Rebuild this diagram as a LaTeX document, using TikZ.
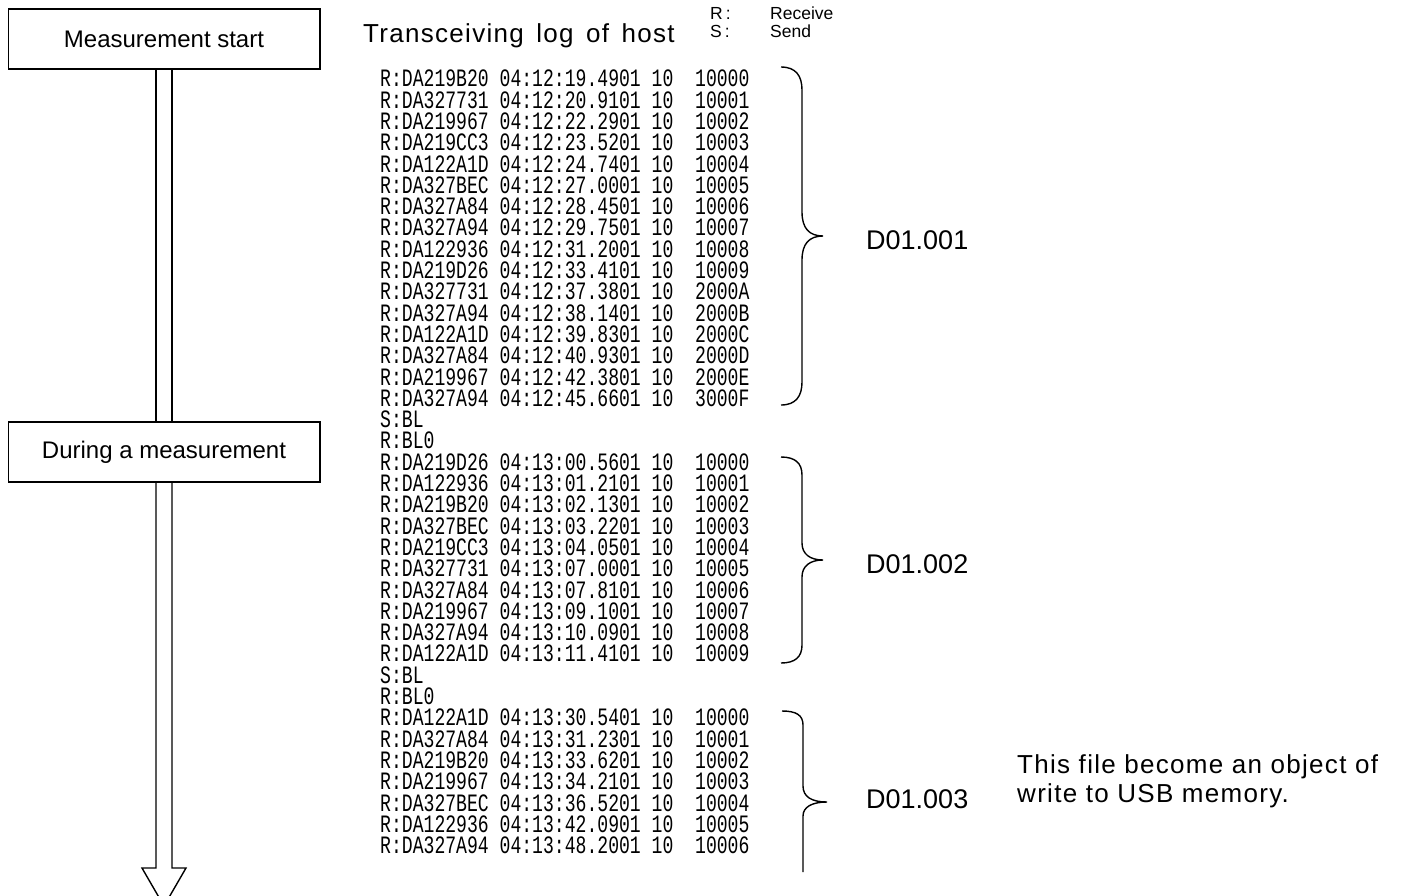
\documentclass[tikz,border=0pt]{standalone}
\usepackage{fontspec}
\setmainfont{Liberation Sans}
\newfontfamily\logfont[FakeStretch=0.724]{Liberation Mono}
\newfontfamily\spacedfont[LetterSpace=5]{Liberation Sans}
\begin{document}
\begin{tikzpicture}[x=1pt,y=-1pt,
  box/.style={draw, line width=1.5pt, minimum width=311.5pt, minimum height=60pt, inner sep=0pt, font=\fontsize{24}{28}\selectfont},
  logline/.style={anchor=base west, inner sep=0pt, text height=15pt, text depth=3pt, font=\logfont\fontsize{25}{21.3}\selectfont},
  lbl/.style={anchor=base west, inner sep=0pt, font=\fontsize{27}{32}\selectfont},
  legend/.style={anchor=base west, inner sep=0pt, text height=12pt, text depth=2pt, font=\fontsize{17.5}{18}\selectfont},
  note/.style={anchor=base west, inner sep=0pt, font=\spacedfont\fontsize{26}{29}\selectfont},
  shaft/.style={line width=1.4pt, line join=miter},
  bracestyle/.style={line width=1.4pt}]
\useasboundingbox (0,0) rectangle (1405,895);

% flow boxes
\node[box] (start) at (164,39) {Measurement start};
\node[box] (during) at (164,452) {During a measurement};

% double-line arrow
\draw[shaft] ([xshift=-8pt]start.south) -- ([xshift=-8pt]during.north);
\draw[shaft] ([xshift=8pt]start.south) -- ([xshift=8pt]during.north);
\coordinate (tip) at (164,906);
\draw[shaft] ([xshift=-8pt]during.south) -- (156,868) -- (142,868) -- (tip) -- (186,868) -- (172,868) -- ([xshift=8pt]during.south);

% header
\node[note] (title) at (363,42) {Transceiving\hspace{12.5pt}log\hspace{12.5pt}of\hspace{12.5pt}host};
\node[legend] (rkey) at (710,19) {R\kern3pt:};
\node[legend] (rtxt) at (770,19) {Receive};
\node[legend] (skey) at (710,37) {S\kern3pt:};
\node[legend] (stxt) at (770,37) {Send};

% log lines
\foreach \t [count=\i] in {
R:DA219B20 04:12:19.4901 10~~10000,
R:DA327731 04:12:20.9101 10~~10001,
R:DA219967 04:12:22.2901 10~~10002,
R:DA219CC3 04:12:23.5201 10~~10003,
R:DA122A1D 04:12:24.7401 10~~10004,
R:DA327BEC 04:12:27.0001 10~~10005,
R:DA327A84 04:12:28.4501 10~~10006,
R:DA327A94 04:12:29.7501 10~~10007,
R:DA122936 04:12:31.2001 10~~10008,
R:DA219D26 04:12:33.4101 10~~10009,
R:DA327731 04:12:37.3801 10~~2000A,
R:DA327A94 04:12:38.1401 10~~2000B,
R:DA122A1D 04:12:39.8301 10~~2000C,
R:DA327A84 04:12:40.9301 10~~2000D,
R:DA219967 04:12:42.3801 10~~2000E,
R:DA327A94 04:12:45.6601 10~~3000F,
S:BL,
R:BL0,
R:DA219D26 04:13:00.5601 10~~10000,
R:DA122936 04:13:01.2101 10~~10001,
R:DA219B20 04:13:02.1301 10~~10002,
R:DA327BEC 04:13:03.2201 10~~10003,
R:DA219CC3 04:13:04.0501 10~~10004,
R:DA327731 04:13:07.0001 10~~10005,
R:DA327A84 04:13:07.8101 10~~10006,
R:DA219967 04:13:09.1001 10~~10007,
R:DA327A94 04:13:10.0901 10~~10008,
R:DA122A1D 04:13:11.4101 10~~10009,
S:BL,
R:BL0,
R:DA122A1D 04:13:30.5401 10~~10000,
R:DA327A84 04:13:31.2301 10~~10001,
R:DA219B20 04:13:33.6201 10~~10002,
R:DA219967 04:13:34.2101 10~~10003,
R:DA327BEC 04:13:36.5201 10~~10004,
R:DA122936 04:13:42.0901 10~~10005,
R:DA327A94 04:13:48.2001 10~~10006}
  \node[logline] (l\i) at (380,{86.8+21.3*(\i-1)}) {\t};

% braces
\draw[bracestyle] (781,67) .. controls (796,67) and (802,76) .. (802,90) -- (802,212)
  .. controls (802,228) and (809,236) .. (823,236)
  .. controls (809,236) and (802,244) .. (802,260) -- (802,382)
  .. controls (802,396) and (796,405) .. (781,405);
\draw[bracestyle] (781,457) .. controls (795,457) and (802,463) .. (802,475) -- (802,543)
  .. controls (802,554) and (810,560) .. (823,560)
  .. controls (810,560) and (802,566) .. (802,577) -- (802,645)
  .. controls (802,657) and (795,663) .. (781,663);
\draw[bracestyle] (782,711) .. controls (796,711) and (803,715) .. (803,725) -- (803,786)
  .. controls (803,797) and (812,802) .. (827,802)
  .. controls (812,802) and (803,807) .. (803,816) -- (803,872);

% brace labels
\node[lbl] (d1) at (866,249) {D01.001};
\node[lbl] (d2) at (866,573) {D01.002};
\node[lbl] (d3) at (866,808) {D01.003};

% note
\node[note] (note1) at (1017,773) {This file become an object of};
\node[note] (note2) at (1017,802) {write to USB memory.};
\end{tikzpicture}
\end{document}
